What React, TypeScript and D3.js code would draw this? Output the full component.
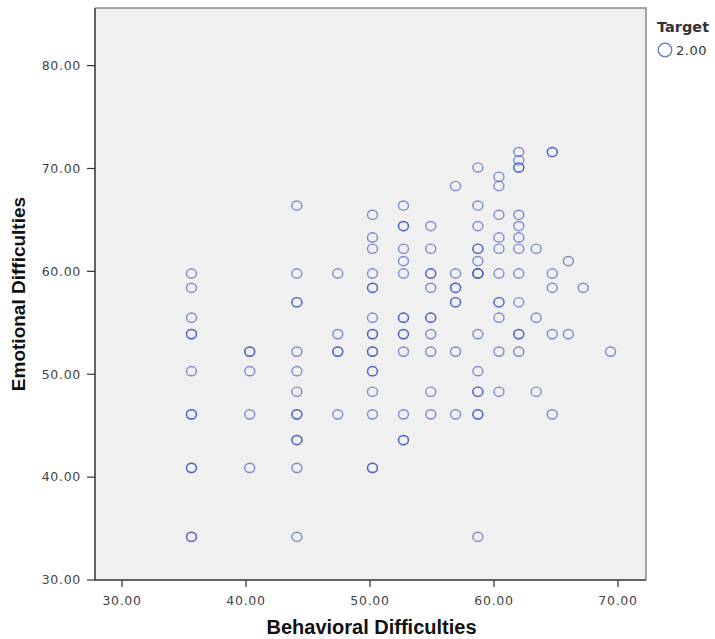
import React from "react";
import * as d3 from "d3";

// Behavioral (x) and Emotional (y) scores, one entry per case (overlapping cases repeated)
const behavioral: number[] = [
  35.6, 35.6, 35.6, 35.6, 35.6, 35.6, 35.6, 35.6, 35.6, 35.6, 35.6, 35.6,
  40.3, 40.3, 40.3, 40.3, 40.3,
  44.1, 44.1, 44.1, 44.1, 44.1, 44.1, 44.1, 44.1, 44.1, 44.1, 44.1, 44.1, 44.1,
  47.4, 47.4, 47.4, 47.4, 47.4,
  50.2, 50.2, 50.2, 50.2, 50.2, 50.2, 50.2, 50.2, 50.2, 50.2, 50.2, 50.2, 50.2, 50.2, 50.2, 50.2, 50.2,
  52.7, 52.7, 52.7, 52.7, 52.7, 52.7, 52.7, 52.7, 52.7, 52.7, 52.7, 52.7, 52.7, 52.7,
  54.9, 54.9, 54.9, 54.9, 54.9, 54.9, 54.9, 54.9, 54.9, 54.9, 54.9,
  56.9, 56.9, 56.9, 56.9, 56.9, 56.9, 56.9, 56.9,
  58.7, 58.7, 58.7, 58.7, 58.7, 58.7, 58.7, 58.7, 58.7, 58.7, 58.7, 58.7, 58.7, 58.7, 58.7, 58.7,
  60.4, 60.4, 60.4, 60.4, 60.4, 60.4, 60.4, 60.4, 60.4, 60.4, 60.4,
  62.0, 62.0, 62.0, 62.0, 62.0, 62.0, 62.0, 62.0, 62.0, 62.0, 62.0, 62.0, 62.0,
  63.4, 63.4, 63.4,
  64.7, 64.7, 64.7, 64.7, 64.7, 64.7,
  66.0, 66.0,
  67.2,
  69.4,
];

const emotional: number[] = [
  59.8, 58.4, 55.5, 53.9, 53.9, 50.3, 46.1, 46.1, 40.9, 40.9, 34.2, 34.2,
  52.2, 52.2, 50.3, 46.1, 40.9,
  66.4, 59.8, 57.0, 57.0, 52.2, 50.3, 48.3, 46.1, 46.1, 43.6, 43.6, 40.9, 34.2,
  59.8, 53.9, 52.2, 52.2, 46.1,
  65.5, 63.3, 62.2, 59.8, 58.4, 58.4, 55.5, 53.9, 53.9, 52.2, 52.2, 50.3, 50.3, 48.3, 46.1, 40.9, 40.9,
  66.4, 64.4, 64.4, 62.2, 61.0, 59.8, 55.5, 55.5, 53.9, 53.9, 52.2, 46.1, 43.6, 43.6,
  64.4, 62.2, 59.8, 59.8, 58.4, 55.5, 55.5, 53.9, 52.2, 48.3, 46.1,
  68.3, 59.8, 58.4, 58.4, 57.0, 57.0, 52.2, 46.1,
  70.1, 66.4, 64.4, 62.2, 62.2, 61.0, 59.8, 59.8, 59.8, 53.9, 50.3, 48.3, 48.3, 46.1, 46.1, 34.2,
  69.2, 68.3, 65.5, 63.3, 62.2, 59.8, 57.0, 57.0, 55.5, 52.2, 48.3,
  71.6, 70.8, 70.1, 70.1, 65.5, 64.4, 63.3, 62.2, 59.8, 57.0, 53.9, 53.9, 52.2,
  62.2, 55.5, 48.3,
  71.6, 71.6, 59.8, 58.4, 53.9, 46.1,
  61.0, 53.9,
  58.4,
  52.2,
];

const xTicks: number[] = [30, 40, 50, 60, 70];
const yTicks: number[] = [30, 40, 50, 60, 70, 80];
const xTitle = "Behavioral Difficulties";
const yTitle = "Emotional Difficulties";
const legendTitle = "Target";
const legendLabel = "2.00";

const W = 715;
const H = 639;
const left = 95;
const right = 646;
const top = 8;
const bottom = 580;

export default function App() {
  const x = d3.scaleLinear().domain([27.82, 72.26]).range([left, right]);
  const y = d3.scaleLinear().domain([30, 85.6]).range([bottom, top]);
  const fmt = d3.format(".2f");
  const markColor = "#3a55bd";

  return (
    <svg
      width={W}
      height={H}
      style={{ position: "absolute", left: 0, top: 0, background: "#fff" }}
    >
      <rect x={left} y={top} width={right - left} height={bottom - top} fill="#f0f0f0" />
      <path
        d={`M${left},${top}H${right}V${bottom}`}
        fill="none"
        stroke="#8a8a8a"
        strokeWidth={1.5}
      />
      <path
        d={`M${left},${top}V${bottom}H${right}`}
        fill="none"
        stroke="#333"
        strokeWidth={1.5}
      />
      {xTicks.map((t) => (
        <g key={"x" + t}>
          <line x1={x(t)} x2={x(t)} y1={bottom} y2={bottom + 7} stroke="#333" strokeWidth={1.2} />
          <text
            x={x(t)}
            y={bottom + 25}
            textAnchor="middle"
            fontFamily="DejaVu Sans, sans-serif"
            fontSize={12.5}
            fill="#444"
            letterSpacing={0.7}
          >
            {fmt(t)}
          </text>
        </g>
      ))}
      {yTicks.map((t) => (
        <g key={"y" + t}>
          <line x1={left - 8} x2={left} y1={y(t)} y2={y(t)} stroke="#333" strokeWidth={1.2} />
          <text
            x={left - 14}
            y={y(t)}
            dy="0.35em"
            textAnchor="end"
            fontFamily="DejaVu Sans, sans-serif"
            fontSize={12.5}
            fill="#444"
            letterSpacing={0.7}
          >
            {fmt(t)}
          </text>
        </g>
      ))}
      {behavioral.map((b, i) => (
        <ellipse
          key={i}
          cx={x(b)}
          cy={y(emotional[i])}
          rx={5}
          ry={4.6}
          fill="none"
          stroke={markColor}
          strokeOpacity={0.65}
          strokeWidth={1.4}
        />
      ))}
      <text
        x={(left + right) / 2 + 1}
        y={634}
        textAnchor="middle"
        fontFamily="Liberation Sans, Arial, sans-serif"
        fontWeight="bold"
        fontSize={20}
        fill="#111"
      >
        {xTitle}
      </text>
      <text
        transform={`translate(25,${(top + bottom) / 2}) rotate(-90)`}
        textAnchor="middle"
        fontFamily="Liberation Sans, Arial, sans-serif"
        fontWeight="bold"
        fontSize={19}
        fill="#111"
      >
        {yTitle}
      </text>
      <text
        x={657}
        y={32}
        fontFamily="DejaVu Sans, sans-serif"
        fontSize={14.5}
        fontWeight="bold"
        fill="#333"
      >
        {legendTitle}
      </text>
      <circle cx={665} cy={50} r={6.8} fill="none" stroke={markColor} strokeOpacity={0.8} strokeWidth={1.3} />
      <text
        x={676}
        y={55}
        fontFamily="DejaVu Sans, sans-serif"
        fontSize={13}
        fill="#333"
        letterSpacing={0.5}
      >
        {legendLabel}
      </text>
    </svg>
  );
}
